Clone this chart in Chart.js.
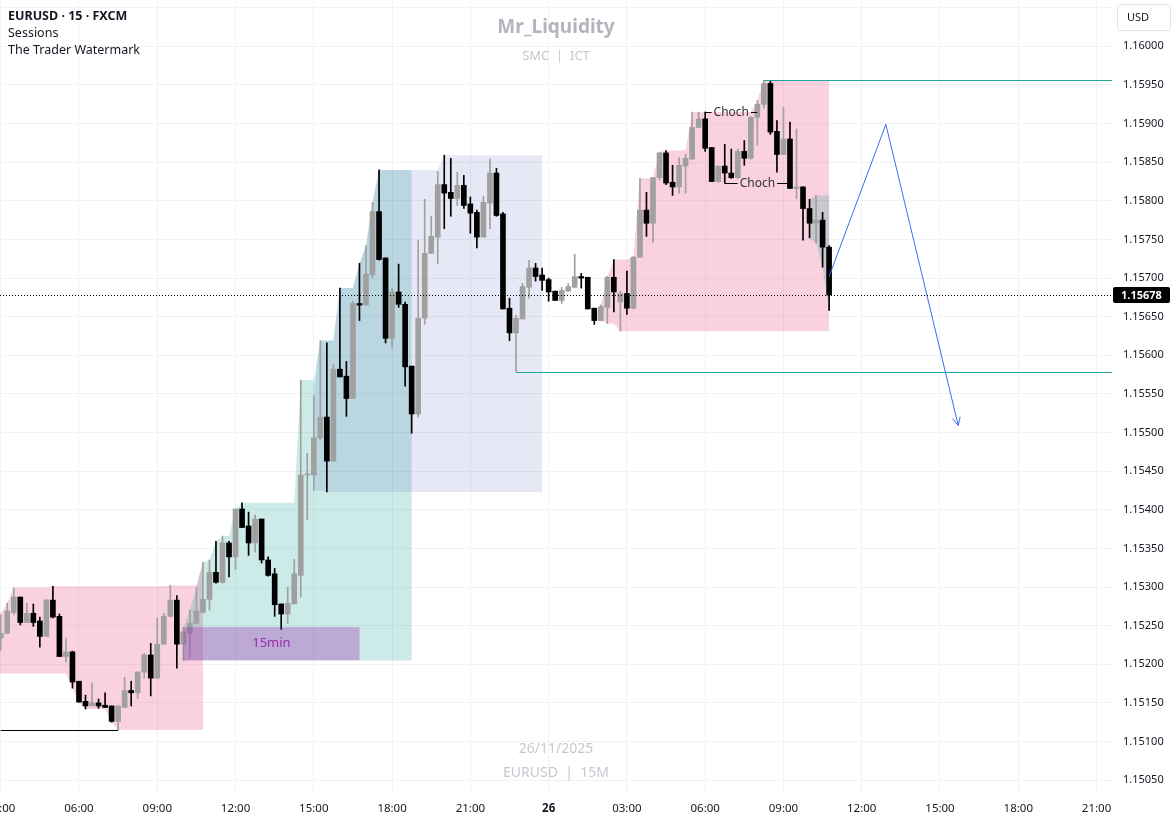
<!DOCTYPE html>
<html>
<head>
<meta charset="utf-8">
<title>EURUSD 15</title>
<script src="https://cdn.jsdelivr.net/npm/chart.js@4.4.1/dist/chart.umd.min.js"></script>
<style>
  html, body { margin: 0; padding: 0; background: #fff; }
  #wrap { width: 1175px; height: 823px; }
</style>
</head>
<body>
<div id="wrap"><canvas id="chart" width="1175" height="823"></canvas></div>
<script>
// EURUSD 15m, bar 0 = 25 Nov 03:00 (first four bars sit left of the view)
const firstBar = -4;

const opens = [
  1.15205,1.15225,1.15244,1.15231,
  1.15234,1.15240,1.15267,1.15287,1.15254,1.15266,1.15256,1.15236,1.15283,1.15262,1.15210,1.15216,
  1.15178,1.15152,1.15146,1.15150,1.15147,1.15146,1.15126,1.15144,1.15166,1.15163,1.15190,1.15212,
  1.15182,1.15226,1.15262,1.15283,1.15226,1.15240,1.15253,1.15267,1.15284,1.15319,1.15306,1.15357,
  1.15339,1.15401,1.15379,1.15357,1.15388,1.15335,1.15317,1.15278,1.15265,1.15278,1.15315,1.15445,
  1.15445,1.15493,1.15520,1.15463,1.15582,1.15573,1.15544,1.15667,1.15665,1.15704,1.15786,1.15726,
  1.15622,1.15682,1.15666,1.15586,1.15524,1.15648,1.15732,1.15753,1.15821,1.15811,1.15803,1.15820,
  1.15796,1.15785,1.15753,1.15797,1.15836,1.15783,1.15661,1.15629,1.15647,1.15688,1.15713,1.15704,
  1.15698,1.15683,1.15671,1.15683,1.15688,1.15702,1.15701,1.15661,1.15645,1.15662,1.15701,1.15669,
  1.15680,1.15661,1.15727,1.15788,1.15771,1.15830,1.15862,1.15824,1.15818,1.15845,1.15854,1.15895,
  1.15906,1.15869,1.15825,1.15845,1.15836,1.15830,1.15864,1.15855,1.15908,1.15925,1.15952,1.15890,
  1.15860,1.15880,1.15816,1.15818,1.15790,1.15771,1.15775,1.15740
];
const highs = [
  1.15231,1.15251,1.15266,1.15247,
  1.15264,1.15279,1.15299,1.15287,1.15279,1.15278,1.15261,1.15284,1.15301,1.15265,1.15234,1.15217,
  1.15178,1.15160,1.15176,1.15155,1.15163,1.15146,1.15146,1.15183,1.15178,1.15190,1.15214,1.15227,
  1.15260,1.15266,1.15302,1.15289,1.15248,1.15270,1.15299,1.15332,1.15335,1.15359,1.15366,1.15359,
  1.15401,1.15409,1.15397,1.15393,1.15388,1.15339,1.15324,1.15278,1.15300,1.15336,1.15568,1.15473,
  1.15548,1.15619,1.15616,1.15588,1.15687,1.15592,1.15670,1.15719,1.15742,1.15798,1.15840,1.15726,
  1.15687,1.15718,1.15669,1.15586,1.15749,1.15802,1.15780,1.15838,1.15859,1.15855,1.15837,1.15833,
  1.15805,1.15788,1.15806,1.15854,1.15842,1.15785,1.15674,1.15652,1.15693,1.15723,1.15719,1.15713,
  1.15700,1.15683,1.15688,1.15693,1.15731,1.15706,1.15701,1.15661,1.15665,1.15702,1.15724,1.15683,
  1.15709,1.15728,1.15829,1.15811,1.15830,1.15863,1.15865,1.15846,1.15856,1.15860,1.15915,1.15915,
  1.15915,1.15869,1.15845,1.15873,1.15867,1.15867,1.15878,1.15909,1.15930,1.15956,1.15956,1.15904,
  1.15921,1.15902,1.15893,1.15818,1.15802,1.15807,1.15785,1.15742
];
const lows = [
  1.15188,1.15216,1.15221,1.15218,
  1.15218,1.15240,1.15264,1.15251,1.15254,1.15249,1.15222,1.15236,1.15260,1.15210,1.15203,1.15169,
  1.15151,1.15142,1.15146,1.15143,1.15144,1.15125,1.15115,1.15144,1.15146,1.15156,1.15182,1.15159,
  1.15182,1.15226,1.15261,1.15195,1.15205,1.15209,1.15253,1.15267,1.15270,1.15305,1.15305,1.15313,
  1.15323,1.15377,1.15341,1.15345,1.15331,1.15314,1.15262,1.15245,1.15253,1.15278,1.15287,1.15387,
  1.15425,1.15490,1.15423,1.15463,1.15572,1.15521,1.15544,1.15645,1.15665,1.15700,1.15723,1.15616,
  1.15609,1.15662,1.15560,1.15499,1.15520,1.15640,1.15732,1.15719,1.15764,1.15780,1.15794,1.15790,
  1.15758,1.15739,1.15753,1.15764,1.15780,1.15660,1.15619,1.15579,1.15647,1.15674,1.15696,1.15684,
  1.15670,1.15671,1.15667,1.15683,1.15688,1.15687,1.15660,1.15640,1.15645,1.15641,1.15656,1.15631,
  1.15653,1.15660,1.15727,1.15754,1.15746,1.15827,1.15821,1.15807,1.15810,1.15810,1.15854,1.15895,
  1.15864,1.15825,1.15824,1.15823,1.15829,1.15829,1.15846,1.15854,1.15872,1.15920,1.15886,1.15837,
  1.15860,1.15816,1.15803,1.15749,1.15752,1.15745,1.15714,1.15658
];
const closes = [
  1.15225,1.15244,1.15231,1.15234,
  1.15240,1.15269,1.15287,1.15254,1.15266,1.15254,1.15236,1.15283,1.15261,1.15210,1.15216,1.15177,
  1.15151,1.15146,1.15150,1.15146,1.15144,1.15126,1.15146,1.15166,1.15163,1.15190,1.15212,1.15182,
  1.15226,1.15262,1.15283,1.15226,1.15242,1.15253,1.15269,1.15284,1.15319,1.15306,1.15357,1.15339,
  1.15401,1.15377,1.15357,1.15388,1.15335,1.15315,1.15277,1.15265,1.15279,1.15317,1.15445,1.15446,
  1.15493,1.15520,1.15463,1.15582,1.15572,1.15544,1.15667,1.15665,1.15705,1.15786,1.15724,1.15622,
  1.15682,1.15666,1.15585,1.15524,1.15648,1.15732,1.15754,1.15821,1.15810,1.15803,1.15820,1.15794,
  1.15784,1.15753,1.15798,1.15836,1.15781,1.15660,1.15629,1.15648,1.15689,1.15713,1.15702,1.15697,
  1.15682,1.15671,1.15684,1.15689,1.15702,1.15700,1.15660,1.15645,1.15663,1.15701,1.15682,1.15680,
  1.15661,1.15727,1.15788,1.15771,1.15830,1.15862,1.15823,1.15818,1.15846,1.15855,1.15895,1.15906,
  1.15868,1.15825,1.15845,1.15836,1.15830,1.15864,1.15855,1.15908,1.15925,1.15952,1.15889,1.15860,
  1.15880,1.15816,1.15818,1.15790,1.15771,1.15775,1.15740,1.15678
];

const tickBars   = [0, 12, 24, 36, 48, 60, 72, 84, 96, 108, 120, 132, 144, 156, 168];
const tickLabels = ['03:00','06:00','09:00','12:00','15:00','18:00','21:00','26',
                    '03:00','06:00','09:00','12:00','15:00','18:00','21:00'];

// session windows (bar numbers, inclusive)
const sessionNames  = ['asia', 'london', 'newyork', 'asia', 'london'];
const sessionStarts = [-4, 28, 48, 92, 124];
const sessionEnds   = [31, 63, 83, 127, 159];

// first 15m range of the London session
const rangeBars   = [28, 55];
const rangePrices = [1.15205, 1.15248];

// levels: null end = runs to the right edge
const levelFrom   = [0, 79, 117];
const levelTo     = [18, null, null];
const levelPrices = [1.15115, 1.15579, 1.15956];

const chochFrom   = [108, 111];
const chochTo     = [116, 121];
const chochPrices = [1.15915, 1.15823];

const pathBars   = [127, 135.7, 146.8];
const pathPrices = [1.15702, 1.15899, 1.15509];

const FONT = "'Noto Sans', 'Liberation Sans', sans-serif";
const bull = '#a0a0a0';
const bear = '#000000';
const sessionFill = {
  asia: 'rgba(236, 64, 122, 0.24)',
  london: 'rgba(0, 150, 136, 0.2)',
  newyork: 'rgba(63, 81, 181, 0.13)'
};

const barColor = (c) => closes[c.dataIndex] >= opens[c.dataIndex] ? bull : bear;
const bodies = opens.map((o, i) => ({ x: firstBar + i, y: [o, closes[i]] }));
const wicks  = opens.map((o, i) => ({ x: firstBar + i, y: [lows[i], highs[i]] }));

function clipArea(ctx, a) {
  ctx.beginPath();
  ctx.rect(a.left, a.top, a.right - a.left, a.bottom - a.top);
  ctx.clip();
}

const overlay = {
  id: 'overlay',
  beforeDatasetsDraw(chart) {
    const { ctx, chartArea: a, scales: { x, y } } = chart;
    ctx.save();
    clipArea(ctx, a);

    // watermark
    const cx = (a.left + a.right) / 2;
    ctx.textAlign = 'center';
    ctx.textBaseline = 'middle';
    ctx.fillStyle = '#b2b5be';
    ctx.font = 'bold 19px ' + FONT;
    ctx.fillText('Mr_Liquidity', cx, 28);
    ctx.fillStyle = '#c5c8cf';
    ctx.font = '13px ' + FONT;
    ctx.fillText('SMC  |  ICT', cx, 56);
    ctx.font = '14px ' + FONT;
    ctx.fillText('26/11/2025', cx, 749);
    ctx.fillText('EURUSD  |  15M', cx, 773);

    // sessions: running high / low while the session is open
    const lastBar = firstBar + closes.length - 1;
    sessionNames.forEach((name, s) => {
      const from = Math.max(sessionStarts[s], firstBar) - firstBar;
      const to = Math.min(sessionEnds[s], lastBar) - firstBar;
      if (to < from) return;
      let hi = -Infinity, lo = Infinity;
      const top = [], bot = [];
      for (let i = from; i <= to; i++) {
        hi = Math.max(hi, highs[i]);
        lo = Math.min(lo, lows[i]);
        const px = x.getPixelForValue(firstBar + i);
        top.push([px, y.getPixelForValue(hi)]);
        bot.push([px, y.getPixelForValue(lo)]);
      }
      ctx.fillStyle = sessionFill[name];
      ctx.beginPath();
      top.forEach(([px, py], k) => k ? ctx.lineTo(px, py) : ctx.moveTo(px, py));
      for (let k = bot.length - 1; k >= 0; k--) ctx.lineTo(bot[k][0], bot[k][1]);
      ctx.closePath();
      ctx.fill();
    });
    ctx.restore();
  },
  afterDatasetsDraw(chart) {
    const { ctx, chartArea: a, scales: { x, y } } = chart;
    ctx.save();
    clipArea(ctx, a);

    // 15min box
    const bx0 = x.getPixelForValue(rangeBars[0]), bx1 = x.getPixelForValue(rangeBars[1]);
    const by0 = y.getPixelForValue(rangePrices[1]), by1 = y.getPixelForValue(rangePrices[0]);
    ctx.fillStyle = 'rgba(156, 39, 176, 0.33)';
    ctx.fillRect(bx0, by0, bx1 - bx0, by1 - by0);
    ctx.fillStyle = '#9c27b0';
    ctx.font = '13px ' + FONT;
    ctx.textAlign = 'center';
    ctx.textBaseline = 'middle';
    ctx.fillText('15min', (bx0 + bx1) / 2, (by0 + by1) / 2);

    // levels
    ctx.lineWidth = 1;
    levelPrices.forEach((p, k) => {
      const py = Math.round(y.getPixelForValue(p)) + 0.5;
      const xe = levelTo[k] === null ? a.right : x.getPixelForValue(levelTo[k]);
      ctx.strokeStyle = k === 0 ? '#000000' : '#26a69a';
      ctx.beginPath();
      ctx.moveTo(x.getPixelForValue(levelFrom[k]), py);
      ctx.lineTo(xe, py);
      ctx.stroke();
    });

    // CHoCH marks
    ctx.font = '12px ' + FONT;
    chochPrices.forEach((p, k) => {
      const py = Math.round(y.getPixelForValue(p)) + 0.5;
      const x0 = x.getPixelForValue(chochFrom[k]), x1 = x.getPixelForValue(chochTo[k]);
      const mid = (x0 + x1) / 2;
      const half = ctx.measureText('Choch').width / 2 + 2;
      ctx.strokeStyle = '#000000';
      ctx.beginPath();
      ctx.moveTo(x0, py); ctx.lineTo(mid - half, py);
      ctx.moveTo(mid + half, py); ctx.lineTo(x1, py);
      ctx.stroke();
      ctx.fillStyle = '#333333';
      ctx.fillText('Choch', mid, py);
    });

    // projected path
    const pts = pathBars.map((b, k) => [x.getPixelForValue(b), y.getPixelForValue(pathPrices[k])]);
    ctx.strokeStyle = '#3b6cf2';
    ctx.beginPath();
    pts.forEach(([px, py], k) => k ? ctx.lineTo(px, py) : ctx.moveTo(px, py));
    ctx.stroke();
    const [x1, y1] = pts[pts.length - 2], [x2, y2] = pts[pts.length - 1];
    const ang = Math.atan2(y2 - y1, x2 - x1);
    ctx.beginPath();
    ctx.moveTo(x2 - 9 * Math.cos(ang - 0.45), y2 - 9 * Math.sin(ang - 0.45));
    ctx.lineTo(x2, y2);
    ctx.lineTo(x2 - 9 * Math.cos(ang + 0.45), y2 - 9 * Math.sin(ang + 0.45));
    ctx.stroke();

    // last price line
    const ly = Math.round(y.getPixelForValue(closes[closes.length - 1])) + 0.5;
    ctx.strokeStyle = '#000000';
    ctx.setLineDash([1, 2]);
    ctx.beginPath();
    ctx.moveTo(a.left, ly);
    ctx.lineTo(a.right, ly);
    ctx.stroke();
    ctx.restore();
  },
  afterDraw(chart) {
    const { ctx, chartArea: a, scales: { y } } = chart;
    ctx.save();

    // last price tag
    const last = closes[closes.length - 1];
    const ly = Math.round(y.getPixelForValue(last));
    ctx.fillStyle = '#000000';
    ctx.beginPath();
    ctx.roundRect(a.right + 1, ly - 8, 57, 16, 2);
    ctx.fill();
    ctx.fillStyle = '#ffffff';
    ctx.font = 'bold 11px ' + FONT;
    ctx.textAlign = 'left';
    ctx.textBaseline = 'middle';
    ctx.fillText(last.toFixed(5), a.right + 9, ly + 0.5);

    // currency box
    ctx.strokeStyle = '#e0e3eb';
    ctx.fillStyle = '#ffffff';
    ctx.beginPath();
    ctx.roundRect(1117.5, 4.5, 53, 26, 4);
    ctx.fill();
    ctx.stroke();
    ctx.fillStyle = '#131722';
    ctx.font = '11px ' + FONT;
    ctx.fillText('USD', 1127, 17.5);

    // legend
    ctx.font = 'bold 12.5px ' + FONT;
    ctx.fillText('EURUSD \u00b7 15 \u00b7 FXCM', 8, 16);
    ctx.font = '12.5px ' + FONT;
    ctx.fillText('Sessions', 8, 33);
    ctx.fillText('The Trader Watermark', 8, 50);
    ctx.restore();
  }
};

new Chart(document.getElementById('chart'), {
  type: 'bar',
  data: {
    datasets: [
      {
        label: 'body',
        data: bodies,
        backgroundColor: barColor,
        barThickness: 5,
        minBarLength: 1,
        grouped: false,
        order: 1
      },
      {
        label: 'wick',
        data: wicks,
        backgroundColor: barColor,
        barThickness: 1,
        grouped: false,
        order: 2
      }
    ]
  },
  options: {
    responsive: false,
    animation: false,
    events: [],
    layout: { padding: 0 },
    plugins: { legend: { display: false }, tooltip: { enabled: false } },
    scales: {
      x: {
        type: 'linear',
        min: -0.11,
        max: 170.37,
        offset: false,
        grid: { color: '#f1f2f5', drawTicks: false, offset: false },
        border: { display: false },
        ticks: {
          stepSize: 12,
          includeBounds: false,
          autoSkip: false,
          maxRotation: 0,
          padding: 8,
          color: '#131722',
          font: (c) => ({ family: FONT, size: 11.5, weight: c.tick && c.tick.value === 84 ? 'bold' : 'normal' }),
          callback: (v) => {
            const k = tickBars.indexOf(v);
            return k >= 0 ? tickLabels[k] : '';
          }
        },
        afterFit: (s) => { s.paddingLeft = 0; s.paddingRight = 0; s.height = 29; }
      },
      y: {
        position: 'right',
        min: 1.15032,
        max: 1.16060,
        grid: { color: '#f1f2f5', drawTicks: false },
        border: { display: false },
        ticks: {
          stepSize: 0.0005,
          includeBounds: false,
          padding: 11,
          color: '#131722',
          font: { family: FONT, size: 11 },
          callback: (v) => v > 1.16001 ? '' : v.toFixed(5)
        },
        afterFit: (s) => { s.width = 63; s.paddingTop = 0; s.paddingBottom = 0; }
      }
    }
  },
  plugins: [overlay]
});
</script>
</body>
</html>
